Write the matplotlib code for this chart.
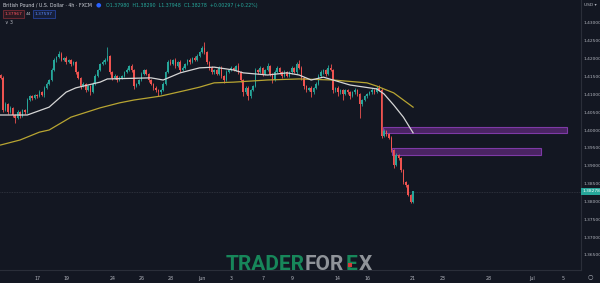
import matplotlib.pyplot as plt
import matplotlib.transforms as mtransforms
from matplotlib.patches import Rectangle
import numpy as np
import pandas as pd

# GBPUSD 4h candles (FXCM)
first_open = 1.4153
closes = [
    1.4146, 1.4056, 1.4073, 1.4050, 1.4062, 1.4042, 1.4034, 1.4050, 1.4039, 1.4056,
    1.4050, 1.4084, 1.4095, 1.4090, 1.4098, 1.4095, 1.4106, 1.4098, 1.4118, 1.4129,
    1.4140, 1.4168, 1.4196, 1.4204, 1.4213, 1.4196, 1.4202, 1.4190, 1.4196, 1.4185,
    1.4190, 1.4162, 1.4146, 1.4123, 1.4129, 1.4112, 1.4123, 1.4106, 1.4129, 1.4151,
    1.4168, 1.4185, 1.4190, 1.4196, 1.4207, 1.4162, 1.4146, 1.4151, 1.4140, 1.4146,
    1.4151, 1.4162, 1.4168, 1.4179, 1.4168, 1.4123, 1.4129, 1.4140, 1.4157, 1.4168,
    1.4157, 1.4140, 1.4129, 1.4118, 1.4112, 1.4106, 1.4112, 1.4129, 1.4162, 1.4190,
    1.4185, 1.4196, 1.4179, 1.4190, 1.4168, 1.4174, 1.4185, 1.4196, 1.4190, 1.4202,
    1.4196, 1.4207, 1.4218, 1.4230, 1.4218, 1.4190, 1.4174, 1.4162, 1.4168, 1.4157,
    1.4174, 1.4151, 1.4140, 1.4162, 1.4168, 1.4174, 1.4168, 1.4179, 1.4162, 1.4140,
    1.4106, 1.4118, 1.4095, 1.4112, 1.4123, 1.4168, 1.4162, 1.4174, 1.4157, 1.4168,
    1.4179, 1.4157, 1.4140, 1.4162, 1.4174, 1.4162, 1.4151, 1.4162, 1.4151, 1.4162,
    1.4174, 1.4162, 1.4185, 1.4174, 1.4146, 1.4123, 1.4112, 1.4118, 1.4106, 1.4118,
    1.4129, 1.4151, 1.4162, 1.4168, 1.4157, 1.4174, 1.4168, 1.4112, 1.4118, 1.4106,
    1.4112, 1.4101, 1.4112, 1.4106, 1.4095, 1.4106, 1.4112, 1.4101, 1.4073, 1.4084,
    1.4095, 1.4101, 1.4106, 1.4112, 1.4106, 1.4118, 1.4112, 1.3983, 1.3997, 1.3989,
    1.3978, 1.3944, 1.3902, 1.3930, 1.3922, 1.3888, 1.3854, 1.3846, 1.3818, 1.3798,
    1.38278,
]
# wick lengths above / below the body, in pips
wick_up = [
    4, 6, 5, 3, 4, 3, 2, 5, 3, 4,
    3, 5, 4, 3, 4, 3, 5, 3, 4, 5,
    3, 6, 5, 4, 8, 4, 3, 5, 4, 3,
    4, 3, 4, 3, 5, 3, 4, 3, 4, 5,
    4, 3, 5, 6, 25, 4, 3, 5, 3, 4,
    3, 4, 5, 3, 6, 4, 3, 4, 5, 4,
    3, 4, 3, 3, 4, 3, 4, 5, 4, 6,
    8, 4, 5, 3, 6, 4, 3, 4, 5, 3,
    4, 5, 3, 6, 17, 4, 3, 5, 3, 4,
    6, 4, 3, 5, 4, 6, 3, 4, 8, 4,
    3, 5, 4, 3, 4, 6, 4, 5, 3, 4,
    8, 4, 3, 6, 5, 3, 4, 6, 3, 4,
    5, 3, 6, 10, 4, 3, 4, 3, 4, 3,
    4, 5, 6, 3, 4, 8, 10, 4, 3, 4,
    3, 4, 3, 4, 3, 4, 5, 3, 4, 3,
    4, 3, 4, 5, 3, 6, 8, 6, 5, 4,
    3, 4, 3, 5, 3, 3, 4, 3, 4, 3,
    1,
]
wick_dn = [
    3, 5, 4, 6, 3, 5, 14, 4, 6, 3,
    5, 3, 4, 6, 3, 5, 4, 3, 5, 3,
    4, 3, 4, 5, 3, 4, 3, 4, 3, 5,
    3, 6, 4, 8, 3, 6, 4, 8, 3, 4,
    3, 4, 3, 4, 3, 6, 5, 3, 6, 4,
    3, 4, 3, 4, 5, 8, 4, 3, 4, 3,
    4, 5, 4, 6, 5, 10, 4, 3, 4, 3,
    4, 3, 5, 4, 6, 3, 4, 3, 4, 3,
    4, 3, 4, 3, 4, 5, 6, 5, 4, 3,
    4, 6, 8, 4, 3, 4, 3, 4, 5, 6,
    10, 6, 12, 5, 4, 3, 4, 3, 5, 4,
    3, 6, 8, 4, 3, 4, 5, 3, 4, 3,
    4, 3, 4, 3, 6, 8, 5, 4, 14, 4,
    3, 4, 3, 4, 5, 3, 4, 8, 6, 10,
    5, 18, 4, 6, 8, 4, 5, 6, 40, 6,
    4, 5, 3, 4, 5, 3, 4, 6, 4, 5,
    4, 5, 8, 4, 6, 5, 6, 5, 4, 3,
    3,
]

# moving averages (white = fast, gold = slow), sampled at candle numbers
fast_idx = [0, 11, 20, 27, 31, 41, 44, 62, 67, 74, 82, 88, 96, 100, 110, 118,
            123, 128, 133, 137, 144, 150, 155, 158, 162, 166, 170]
fast_ma = [1.4042, 1.4042, 1.4064, 1.4106, 1.4118, 1.4134, 1.4143, 1.4146, 1.4140,
           1.4160, 1.4174, 1.4176, 1.4168, 1.4160, 1.4154, 1.4160, 1.4154, 1.4140,
           1.4148, 1.4140, 1.4126, 1.4120, 1.4115, 1.4101, 1.4070, 1.4036, 1.3992]
slow_idx = [0, 8, 16, 20, 29, 41, 49, 55, 66, 77, 82, 88, 96, 110, 123, 137,
            151, 155, 162, 170]
slow_ma = [1.3958, 1.3972, 1.3994, 1.4000, 1.4036, 1.4062, 1.4076, 1.4084, 1.4095,
           1.4112, 1.4120, 1.4132, 1.4134, 1.4140, 1.4143, 1.4140, 1.4132, 1.4123,
           1.4104, 1.4064]

# supply zones
zone_start = [157.5, 161.5]
zone_end = [233.5, 222.8]
zone_top = [1.4008, 1.3950]
zone_bottom = [1.3991, 1.3929]

tick_dates = ['2021-05-17', '2021-05-19', '2021-05-24', '2021-05-26', '2021-05-28',
              '2021-06-01', '2021-06-03', '2021-06-07', '2021-06-09', '2021-06-14',
              '2021-06-16', '2021-06-21', '2021-06-23', '2021-06-28', '2021-07-01',
              '2021-07-05']
tick_names = ['17', '19', '24', '26', '28', 'Jun', '3', '7', '9', '14', '16', '21',
              '23', '28', 'Jul', '5']
price_ticks = [1.365, 1.370, 1.375, 1.380, 1.385, 1.390, 1.395, 1.400,
               1.405, 1.410, 1.415, 1.420, 1.425, 1.430]
last_price = 1.38278

bg = '#131722'
up_col = '#26a69a'
dn_col = '#ef5350'
txt_col = '#b2b5be'
line_col = '#2a2e39'

# 4h session timeline: weekdays plus the single Sunday evening candle
times = pd.date_range('2021-05-12 16:00', '2021-07-07', freq='4h')
times = times[(times.dayofweek < 5) | ((times.dayofweek == 6) & (times.hour == 20))]
tick_pos = [times.get_loc(pd.Timestamp(d)) for d in tick_dates]

closes = np.array(closes)
opens = np.concatenate([[first_open], closes[:-1]])
highs = np.maximum(opens, closes) + np.array(wick_up) * 0.0001
lows = np.minimum(opens, closes) - np.array(wick_dn) * 0.0001
idx = np.arange(len(closes))
colors = np.where(closes >= opens, up_col, dn_col)

fig = plt.figure(figsize=(6, 2.83), dpi=100, facecolor=bg)
ax = fig.add_axes([0, 13 / 283, 581 / 600, 270 / 283])
ax.set_facecolor(bg)

for i in range(len(zone_start)):
    ax.add_patch(Rectangle((zone_start[i], zone_bottom[i]), zone_end[i] - zone_start[i],
                           zone_top[i] - zone_bottom[i], facecolor='#4a2463',
                           edgecolor='#7e3aa6', linewidth=0.8, zorder=1))

ax.axhline(last_price, color='#363a45', lw=0.6, ls=(0, (1, 1)), zorder=1)

ax.vlines(idx, lows, highs, colors=colors, linewidth=0.6, zorder=2)
ax.bar(idx, np.abs(closes - opens) + 0.00006, bottom=np.minimum(opens, closes),
       width=0.62, color=colors, linewidth=0, zorder=3)

ax.plot(slow_idx, slow_ma, color='#b8a532', lw=0.9, zorder=4)
ax.plot(fast_idx, fast_ma, color='#d6d6d6', lw=0.9, zorder=4)

ax.set_xlim(-0.25, 239.2)
ax.set_ylim(1.3608, 1.4364)

ax.yaxis.tick_right()
ax.set_yticks(price_ticks)
ax.set_yticklabels(['%.5f' % p for p in price_ticks])
ax.set_xticks(tick_pos)
ax.set_xticklabels(tick_names)
ax.tick_params(axis='y', length=0, pad=1.5, labelsize=3.2, labelcolor=txt_col)
ax.tick_params(axis='x', length=0, pad=4, labelsize=3.4, labelcolor=txt_col)
for s in ['top', 'left']:
    ax.spines[s].set_visible(False)
for s in ['right', 'bottom']:
    ax.spines[s].set_color(line_col)
    ax.spines[s].set_linewidth(0.8)

trans = mtransforms.blended_transform_factory(ax.transAxes, ax.transData)
ax.text(1.002, last_price, '%.5f' % last_price, transform=trans, ha='left', va='center',
        fontsize=3.2, color='white', clip_on=False,
        bbox=dict(boxstyle='square,pad=0.3', fc=up_col, ec='none'))

# header
fig.text(3 / 600, 1 - 5 / 283, 'British Pound / U.S. Dollar · 4h · FXCM',
         fontsize=3.4, color='#d1d4dc', va='center')
fig.text(98 / 600, 1 - 5 / 283, '\u25cf', fontsize=4.5, color='#2962ff', va='center',
         ha='center')
fig.text(106 / 600, 1 - 5 / 283,
         'O1.37980  H1.38290  L1.37948  C1.38278  +0.00297 (+0.22%)',
         fontsize=3.4, color=up_col, va='center')
fig.text(5 / 600, 1 - 14 / 283, '1.37967', fontsize=3.2, color='#f7525f', va='center',
         bbox=dict(boxstyle='square,pad=0.35', fc='#2a1a22', ec='#8c2f39', lw=0.5))
fig.text(26 / 600, 1 - 14 / 283, '44', fontsize=3.2, color=txt_col, va='center')
fig.text(35 / 600, 1 - 14 / 283, '1.37597', fontsize=3.2, color='#5b8cff', va='center',
         bbox=dict(boxstyle='square,pad=0.35', fc='#161f3a', ec='#2a4bb0', lw=0.5))
fig.text(5 / 600, 1 - 23 / 283, '\u2228 3', fontsize=3.4, color=txt_col, va='center')
fig.text(590 / 600, 1 - 5 / 283, 'USD \u25be', fontsize=3.2, color=txt_col, va='center',
         ha='center')
fig.text(590 / 600, 1 - 277 / 283, '\u25cb', fontsize=4.5, color=txt_col, va='center',
         ha='center')

# watermark
wm_y = 1 - 265 / 283
wm_font = dict(fontsize=15, fontweight='bold', family='Roboto', va='center')
fig.text(226 / 600, wm_y, 'TRADER', color='#17875a', **wm_font)
fig.text(305 / 600, wm_y, 'FOR', color='#8f9399', **wm_font)
fig.text(346 / 600, wm_y, 'E', color='#17875a', **wm_font)
fig.text(359 / 600, wm_y, 'X', color='#8f9399', **wm_font)
fig.patches.append(Rectangle((348 / 600, 1 - 267 / 283), 4.5 / 600, 4.5 / 283,
                             transform=fig.transFigure, facecolor='#d63a3a',
                             edgecolor='none', zorder=5))

fig.savefig('out.png', dpi=100, facecolor=bg)
